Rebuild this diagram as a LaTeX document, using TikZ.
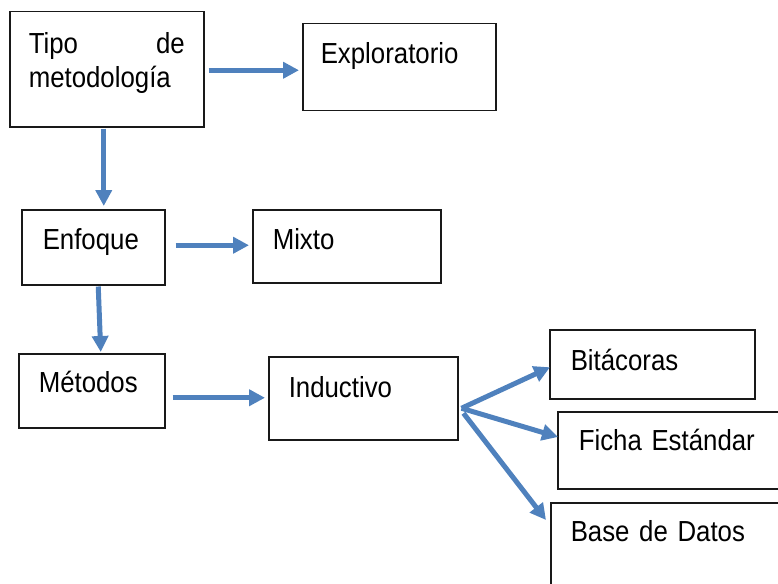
\documentclass[tikz,border=0pt]{standalone}
\usepackage{fontspec}
\setmainfont{Liberation Sans}[FakeStretch=0.89]
\usetikzlibrary{arrows.meta,calc}
\definecolor{arrowblue}{RGB}{79,129,189}
\newcommand\cajafont{\fontsize{29}{34}\selectfont\spaceskip=6.5pt\relax}

\begin{document}
\begin{tikzpicture}[x=1pt,y=-1pt,
  every node/.style={font=\cajafont},
  box/.style={draw=black!90,line width=1.5pt,anchor=north west,inner ysep=0pt,align=left},
  flecha/.style={draw=arrowblue,line width=5pt,-{Triangle[length=16pt,width=16pt]}}]
\useasboundingbox (0,0) rectangle (778,583);
\node[box,inner xsep=19pt,text height=42pt,text depth=73pt] (tipo) at (9,11) {\parbox[t]{156pt}{Tipo\hfill de\\metodología}};
\node[box,inner xsep=18pt,text width=157pt,text height=40pt,text depth=47pt] (exp) at (302,23) {Exploratorio};
\node[box,inner xsep=21pt,text width=101pt,text height=40pt,text depth=35pt] (enf) at (21,209) {Enfoque};
\node[box,inner xsep=20pt,text width=148pt,text height=40pt,text depth=33pt] (mix) at (252,209) {Mixto};
\node[box,inner xsep=20pt,text width=106pt,text height=39pt,text depth=35pt] (met) at (18,353) {Métodos};
\node[box,inner xsep=20pt,text width=149pt,text height=41pt,text depth=42pt] (ind) at (268,356) {Inductivo};
\node[box,inner xsep=21pt,text width=163pt,text height=41pt,text depth=28pt] (bit) at (549,329) {Bitácoras};
\node[box,inner xsep=21pt,text width=200pt,text height=39pt,text depth=38pt] (fic) at (557,411) {Ficha Estándar};
\node[box,inner xsep=20pt,text width=200pt,text height=39pt,text depth=59pt] (bas) at (550,502) {Base de Datos};

\draw[flecha] ($(tipo.east)+(4,1)$) -- ($(tipo.east -| exp.west)+(-3,1)$);
\draw[flecha] ($(tipo.south)+(-3,1)$) -- ($(tipo.south |- enf.north)+(-3,-3)$);
\draw[flecha] ($(enf.east)+(10,-2)$) -- ($(enf.east -| mix.west)+(-3,-2)$);
\draw[flecha] ($(enf.south)+(5,1)$) -- ($(met.north)+(9,-1)$);
\draw[flecha] ($(met.east)+(7,7)$) -- ($(met.east -| ind.west)+(-3,7)$);
\coordinate (fan) at ($(ind.east)+(3,10)$);
\draw[flecha] (fan) -- ($(bit.west)+(1,3)$);
\draw[flecha] (fan) -- ($(fic.north west)+(1,26)$);
\draw[flecha] ($(fan)+(2,5)$) -- ($(bas.north west)+(-4,18)$);
\end{tikzpicture}
\end{document}
